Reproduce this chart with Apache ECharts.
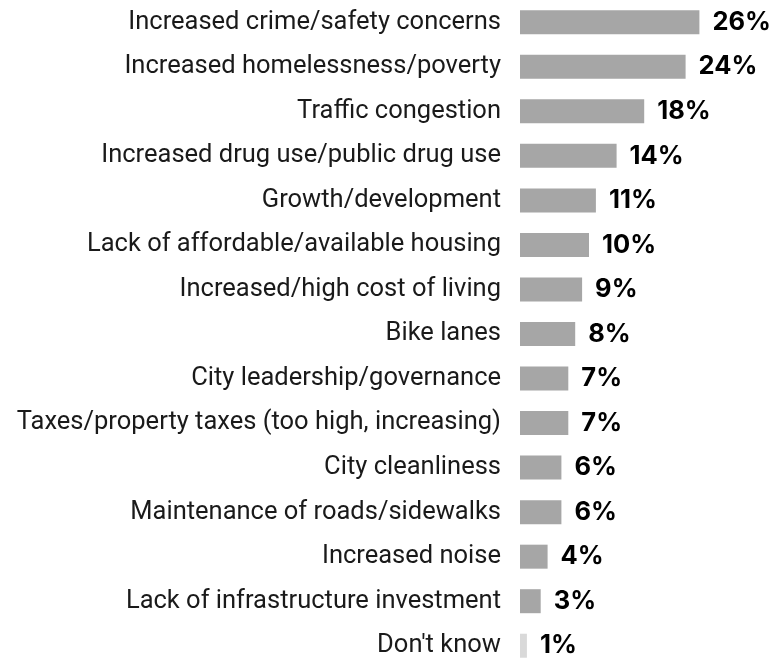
<!DOCTYPE html>
<html>
<head>
<meta charset="utf-8">
<script src="https://cdn.jsdelivr.net/npm/echarts@6/dist/echarts.min.js"></script>
<style>
  html, body { margin: 0; padding: 0; background: #fff; overflow: hidden; }
  #chart { width: 775px; height: 680px; }
</style>
</head>
<body>
<div id="chart"></div>
<script>
// Concerns, top to bottom
const categories = [
  'Increased crime/safety concerns',
  'Increased homelessness/poverty',
  'Traffic congestion',
  'Increased drug use/public drug use',
  'Growth/development',
  'Lack of affordable/available housing',
  'Increased/high cost of living',
  'Bike lanes',
  'City leadership/governance',
  'Taxes/property taxes (too high, increasing)',
  'City cleanliness',
  'Maintenance of roads/sidewalks',
  'Increased noise',
  'Lack of infrastructure investment',
  "Don't know"
];
const values = [26, 24, 18, 14, 11, 10, 9, 8, 7, 7, 6, 6, 4, 3, 1];
const barColor = '#a6a6a6';
const mutedColor = '#d9d9d9';

const chart = echarts.init(document.getElementById('chart'), null, { renderer: 'canvas' });

chart.setOption({
  animation: false,
  grid: { left: 520, top: 0, width: 207, height: 668, containLabel: false },
  xAxis: {
    type: 'value', min: 0, max: 30, show: false
  },
  yAxis: {
    type: 'category',
    inverse: true,
    data: categories,
    axisLine: { show: false },
    axisTick: { show: false },
    axisLabel: {
      margin: 19,
      fontFamily: 'Roboto',
      fontSize: 25.5,
      color: '#1a1a1a'
    }
  },
  series: [{
    type: 'bar',
    barWidth: 24,
    data: values.map((v, i) => ({
      value: v,
      itemStyle: { color: categories[i] === "Don't know" ? mutedColor : barColor }
    })),
    label: {
      show: true,
      position: 'right',
      distance: 13,
      formatter: p => p.value + '%',
      fontFamily: 'Inter',
      fontWeight: 'bold',
      fontSize: 25.5,
      color: '#000'
    }
  }]
});
</script>
</body>
</html>
